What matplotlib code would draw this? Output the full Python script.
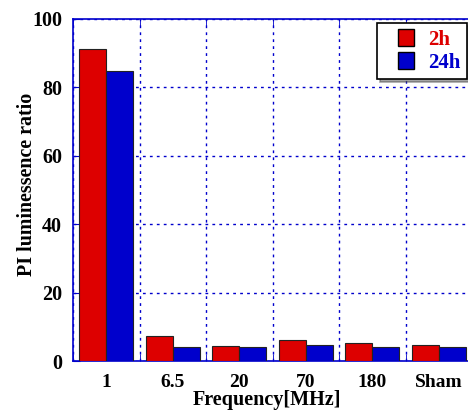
import matplotlib.pyplot as plt
import numpy as np
from matplotlib.ticker import FixedLocator
from matplotlib.patches import Rectangle
from matplotlib.container import BarContainer
from matplotlib.legend_handler import HandlerPatch, update_from_first_child

freqs = ["1", "6.5", "20", "70", "180", "Sham"]
vals_2h = [91.1, 7.3, 4.4, 6.0, 5.2, 4.6]
vals_24h = [84.9, 4.2, 4.1, 4.6, 4.1, 4.1]

RED = "#dd0000"
BLUE = "#0000cc"

plt.rcParams["font.family"] = ["Liberation Serif", "DejaVu Serif"]
plt.rcParams["font.weight"] = "bold"

fig = plt.figure(figsize=(4.68, 4.11), dpi=100)
ax = fig.add_axes([73 / 468, 1 - 361 / 411, (472 - 73) / 468, (361 - 19) / 411])

x = np.arange(1, len(freqs) + 1)
w = 0.405
ax.bar(x - w / 2, vals_2h, w, color=RED, edgecolor="#222222", linewidth=0.8, label="2h", zorder=3)
ax.bar(x + w / 2, vals_24h, w, color=BLUE, edgecolor="#222222", linewidth=0.8, label="24h", zorder=3)

ax.set_xlim(0.5, len(freqs) + 0.5)
ax.set_ylim(0, 100)

ax.set_xticks(x)
ax.set_xticklabels(freqs, fontsize=14, fontweight="bold")
ax.xaxis.set_minor_locator(FixedLocator(np.arange(0.5, len(freqs) + 1, 1.0)))
ax.tick_params(axis="x", which="major", length=0, pad=9)
ax.tick_params(axis="x", which="minor", direction="in", length=5, color=BLUE, top=True, bottom=True)

ax.set_yticks([0, 20, 40, 60, 80, 100])
ax.tick_params(axis="y", direction="in", length=5, color=BLUE, labelsize=14.5, pad=8)
for lab in ax.get_yticklabels():
    lab.set_fontweight("bold")

ax.grid(True, which="minor", axis="x", color=BLUE, linestyle=(0, (2, 3)), linewidth=1.0, zorder=1)
ax.grid(True, which="major", axis="y", color=BLUE, linestyle=(0, (2, 3)), linewidth=1.0, zorder=1)

for s in ["left", "top", "bottom", "right"]:
    ax.spines[s].set_color(BLUE)
    ax.spines[s].set_linewidth(1.2)

ax.set_xlabel("Frequency[MHz]", fontsize=14.5, fontweight="bold")
ax.set_ylabel("PI luminessence ratio", fontsize=14.4, fontweight="bold")
ax.xaxis.set_label_coords(0.485, -0.085)
ax.yaxis.set_label_coords(-0.09, 0.516)


# square legend patch sitting at the right end of a wider handle box
def square_patch(legend, orig_handle, xdescent, ydescent, width, height, fontsize):
    side = height
    return Rectangle((-xdescent + width - side, -ydescent), side, side)


leg = ax.legend(loc="upper right", bbox_to_anchor=(0.987, 0.988), borderaxespad=0, fontsize=15,
                frameon=True, fancybox=False, shadow=True, edgecolor="black", borderpad=0.3,
                handlelength=1.49, handleheight=0.85, handletextpad=0.67, labelspacing=0.12,
                handler_map={BarContainer: HandlerPatch(patch_func=square_patch,
                                                        update_func=update_from_first_child)})
leg.get_frame().set_linewidth(1.2)
leg.get_texts()[0].set_color(RED)
leg.get_texts()[1].set_color(BLUE)
for t in leg.get_texts():
    t.set_fontweight("bold")
for p in leg.get_patches():
    p.set_edgecolor("black")
    p.set_linewidth(1.0)

fig.savefig("out.png", dpi=100)
